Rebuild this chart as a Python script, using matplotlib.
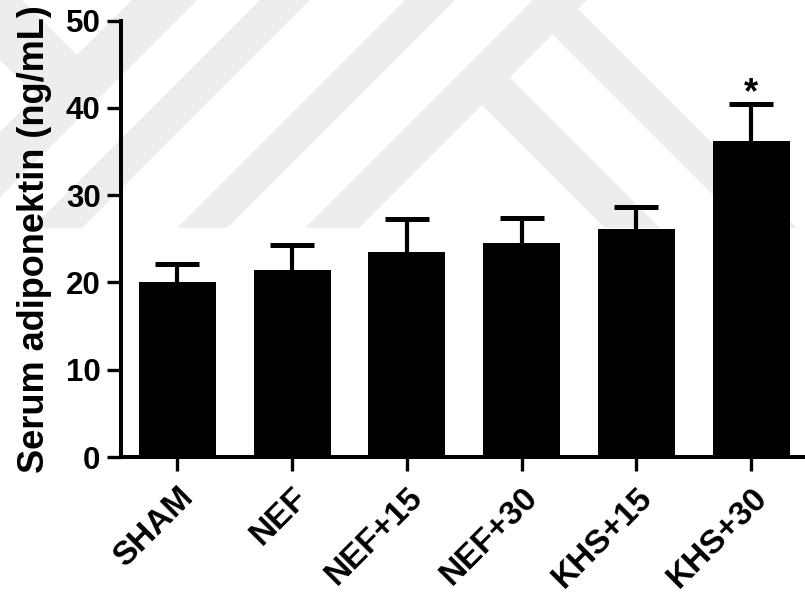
import numpy as np
import matplotlib
matplotlib.use("Agg")
import matplotlib.pyplot as plt
from matplotlib.patches import Polygon
from matplotlib.transforms import ScaledTranslation

plt.rcParams['font.family'] = ['Liberation Sans', 'DejaVu Sans']
plt.rcParams['font.weight'] = 'bold'

# data (mean + upper error)
groups = ["SHAM", "NEF", "NEF+15", "NEF+30", "KHS+15", "KHS+30"]
means = [20.0, 21.4, 23.5, 24.5, 26.1, 36.2]
errs = [2.1, 2.9, 3.8, 2.9, 2.6, 4.3]
marks = ["", "", "", "", "", "*"]
yticks = [0, 10, 20, 30, 40, 50]

# faint watermark in the background (pixel coords of the figure)
wm_color = '#ededed'
wm_bottom = 228
slash_bands = [(132, 197), (260, 310), (405, 455), (533, 587)]   # x + y ranges
back_bands = [(518, 569, 533), (377, 432, 560)]                  # x - y ranges, start line


fig = plt.figure(figsize=(8.05, 5.97), dpi=100)

bg = fig.add_axes([0, 0, 1, 1], zorder=0)
bg.set_xlim(0, 805)
bg.set_ylim(597, 0)
bg.axis('off')
for c1, c2 in slash_bands:
    bg.add_patch(Polygon([(c1, 0), (c2, 0), (c2 - wm_bottom, wm_bottom), (c1 - wm_bottom, wm_bottom)],
                         closed=True, color=wm_color, lw=0))
for d1, d2, e in back_bands:
    pts = [((e + d1) / 2, (e - d1) / 2), ((e + d2) / 2, (e - d2) / 2),
           (d2 + wm_bottom, wm_bottom), (d1 + wm_bottom, wm_bottom)]
    bg.add_patch(Polygon(pts, closed=True, color=wm_color, lw=0))
bg.add_patch(Polygon([(-60, 0), (22, 0), (91, 69), (50, 110)], closed=True, color=wm_color, lw=0))

ax = fig.add_axes([120.7 / 805, 0.2345, 1 - 120.7 / 805, 0.7308], zorder=1)
ax.patch.set_alpha(0)

x = np.arange(len(groups))
ax.bar(x, means, width=0.67, color='black', zorder=2)
eb = ax.errorbar(x, means, yerr=[np.zeros(len(errs)), errs], fmt='none', ecolor='black',
                 elinewidth=3, capsize=15.5, capthick=3.6, zorder=1)
eb[1][0].set_visible(False)   # no cap at the bar top
for xi, m, e, s in zip(x, means, errs, marks):
    if s:
        ax.text(xi, m + e + 0.1, s, ha='center', va='baseline', fontsize=26, fontweight='bold')

ax.set_xlim(-0.493, 5.468)
ax.set_ylim(0, 50)
ax.set_yticks(yticks)
ax.set_xticks(x)
ax.set_xticklabels(groups, rotation=45, ha='right', rotation_mode='anchor',
                   fontsize=24, fontweight='bold')
for lab in ax.get_xticklabels():
    lab.set_transform(lab.get_transform() + ScaledTranslation(3 / 100, 0, fig.dpi_scale_trans))
ax.tick_params(axis='y', labelsize=22.5, length=10, width=2.4, pad=4.5)
ax.tick_params(axis='x', length=10, width=2.4, pad=8)

for s in ['top', 'right']:
    ax.spines[s].set_visible(False)
for s in ['left', 'bottom']:
    ax.spines[s].set_linewidth(2.9)

ax.set_ylabel('Serum adiponektin (ng/mL)', fontsize=26, fontweight='bold', labelpad=10)

fig.savefig('out.png', dpi=100)
